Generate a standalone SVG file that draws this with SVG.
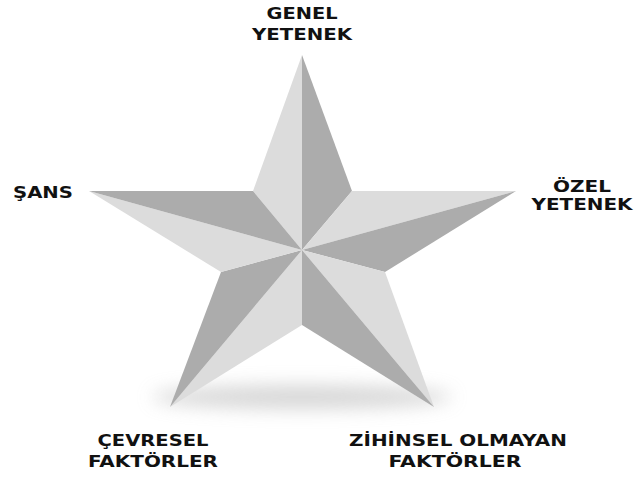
<svg xmlns="http://www.w3.org/2000/svg" width="637" height="477" viewBox="0 0 637 477">
  <defs>
    <filter id="blur" x="-50%" y="-200%" width="200%" height="500%">
      <feGaussianBlur stdDeviation="9"/>
    </filter>
    <style>
      .lt { fill: #dcdcdc; }
      .dk { fill: #acacac; }
      .lbl { font-family: "DejaVu Sans", "Liberation Sans", sans-serif; font-weight: bold; font-size: 15px; fill: #111; text-anchor: middle; }
    </style>
  </defs>
  <rect width="637" height="477" fill="#ffffff"/>
  <ellipse cx="302" cy="397" rx="150" ry="12" fill="#bdbdbd" opacity="0.6" filter="url(#blur)"/>
  <g id="star">
    <!-- top arm -->
    <polygon class="lt" points="302,55 253,191 302,250"/>
    <polygon class="dk" points="302,55 302,250 352,191"/>
    <!-- right arm -->
    <polygon class="lt" points="516,191 352,191 302,250"/>
    <polygon class="dk" points="516,191 302,250 385,272"/>
    <!-- bottom-right arm -->
    <polygon class="lt" points="434,407 385,272 302,250"/>
    <polygon class="dk" points="434,407 302,250 302,325"/>
    <!-- bottom-left arm -->
    <polygon class="lt" points="170,407 302,250 302,325"/>
    <polygon class="dk" points="170,407 221,272 302,250"/>
    <!-- left arm -->
    <polygon class="lt" points="89,191 302,250 221,272"/>
    <polygon class="dk" points="89,191 253,191 302,250"/>
  </g>
  <g id="genel-yetenek">
    <text class="lbl" x="302" y="19" textLength="71" lengthAdjust="spacingAndGlyphs">GENEL</text>
    <text class="lbl" x="302" y="40" textLength="100" lengthAdjust="spacingAndGlyphs">YETENEK</text>
  </g>
  <g id="sans">
    <text class="lbl" x="43" y="198" textLength="60" lengthAdjust="spacingAndGlyphs">ŞANS</text>
  </g>
  <g id="ozel-yetenek">
    <text class="lbl" x="582" y="192" textLength="58" lengthAdjust="spacingAndGlyphs">ÖZEL</text>
    <text class="lbl" x="582" y="210" textLength="101" lengthAdjust="spacingAndGlyphs">YETENEK</text>
  </g>
  <g id="cevresel-faktorler">
    <text class="lbl" x="153" y="446" textLength="111" lengthAdjust="spacingAndGlyphs">ÇEVRESEL</text>
    <text class="lbl" x="153" y="467" textLength="130" lengthAdjust="spacingAndGlyphs">FAKTÖRLER</text>
  </g>
  <g id="zihinsel-olmayan-faktorler">
    <text class="lbl" x="458" y="446" textLength="218" lengthAdjust="spacingAndGlyphs">ZİHİNSEL OLMAYAN</text>
    <text class="lbl" x="455" y="467" textLength="133" lengthAdjust="spacingAndGlyphs">FAKTÖRLER</text>
  </g>
</svg>
